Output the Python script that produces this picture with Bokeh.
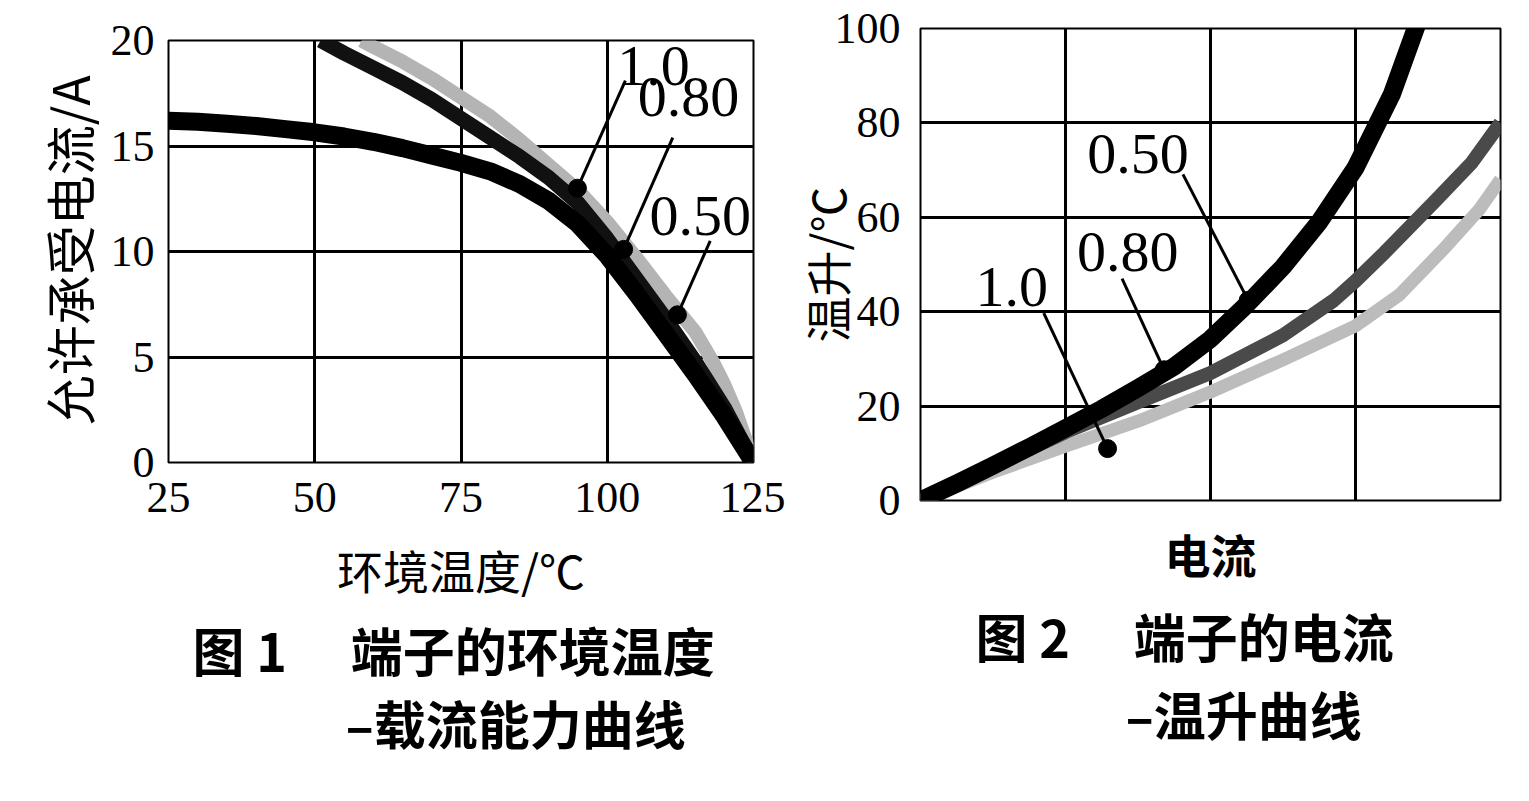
from bokeh.plotting import figure
from bokeh.models import Label, FixedTicker, Range1d, Title
from bokeh.layouts import row
from bokeh.embed import file_html
from bokeh.resources import INLINE

# ---------------- Figure 1 data: ambient temperature vs allowed current ----------------
series_names = ["1.0", "0.80", "0.50"]
temp_100 = [58, 60, 65, 70, 75, 80, 85, 90, 95, 100, 105, 110, 115, 118, 120, 122, 125]
curr_100 = [20.0, 19.7, 19.0, 18.2, 17.3, 16.4, 15.3, 14.1, 12.9, 11.4, 9.7, 7.9, 6.2, 4.8, 3.7, 2.4, 0.0]
temp_080 = [51, 55, 60, 65, 70, 75, 80, 85, 90, 95, 100, 105, 110, 115, 120, 125]
curr_080 = [20.0, 19.4, 18.7, 18.0, 17.2, 16.3, 15.4, 14.5, 13.5, 12.3, 10.6, 8.7, 6.8, 4.8, 2.6, 0.0]
temp_050 = [25, 30, 35, 40, 45, 50, 55, 60, 65, 70, 75, 80, 85, 90, 95, 100, 105, 110, 115, 120, 125]
curr_050 = [16.2, 16.15, 16.05, 15.95, 15.8, 15.65, 15.45, 15.2, 14.9, 14.55, 14.2, 13.8, 13.2,
            12.4, 11.3, 9.8, 8.0, 6.1, 4.2, 2.2, 0.0]
temp_ticks = [25, 50, 75, 100, 125]
curr_ticks = [0, 5, 10, 15, 20]

# ---------------- Figure 2 data: current vs temperature rise ----------------
i_100 = [0, 0.5, 1.0, 1.5, 2.0, 2.5, 3.0, 3.3, 3.6, 3.85, 4.0]
rise_100 = [0, 6, 11.5, 16.8, 23, 29.8, 37, 43.5, 53, 61.5, 68]
i_080 = [0, 0.5, 1.0, 1.5, 2.0, 2.5, 2.85, 3.0, 3.2, 3.55, 3.8, 4.0]
rise_080 = [0, 7.2, 14.5, 20.8, 27, 35, 42.4, 46.5, 52.5, 63.5, 71.5, 80]
i_050 = [0, 0.25, 0.5, 0.75, 1.0, 1.25, 1.5, 1.75, 2.0, 2.25, 2.5, 2.75, 3.0, 3.25, 3.45]
rise_050 = [0, 3.6, 7.4, 11.3, 15.3, 19.4, 23.8, 28.4, 34.2, 41.5, 49.5, 59, 70.5, 86, 103]
current_ticks = [0, 1, 2, 3, 4]
rise_ticks = [0, 20, 40, 60, 80, 100]

SERIF = "Liberation Serif"
CJK = "Noto Sans CJK SC"


def style(p):
    p.outline_line_color = "black"
    p.outline_line_width = 2
    p.background_fill_color = "white"
    p.border_fill_color = "white"
    for g in (p.xgrid, p.ygrid):
        g.grid_line_color = "black"
        g.grid_line_width = 3
    for ax in p.axis:
        ax.axis_line_color = None
        ax.major_tick_line_color = None
        ax.minor_tick_line_color = None
        ax.major_label_text_font = SERIF
        ax.major_label_text_font_size = "44px"
        ax.major_label_text_color = "black"
        ax.axis_label_text_font = CJK
        ax.axis_label_text_font_size = "46px"
        ax.axis_label_text_font_style = "normal"
        ax.axis_label_text_color = "black"


def caption(p, text, offset, standoff):
    p.add_layout(Title(text=text, text_font=CJK, text_font_size="52px",
                       text_font_style="bold", text_color="black",
                       align="left", offset=offset, standoff=standoff), "below")


def annot(p, x, y, text):
    p.add_layout(Label(x=x, y=y, text=text, text_font=SERIF, text_font_size="58px",
                       text_color="black", text_align="center", text_baseline="middle"))


# ---------------- Figure 1 ----------------
p1 = figure(width=785, height=780, output_backend="svg", toolbar_location=None,
            x_range=Range1d(25, 125), y_range=Range1d(0, 20),
            min_border_left=168, min_border_right=32, min_border_top=40, min_border_bottom=318,
            x_axis_label="环境温度/℃", y_axis_label="允许承受电流/A")
p1.frame_align = False
style(p1)
p1.yaxis.axis_label_text_font_size = "50px"
p1.xaxis.ticker = FixedTicker(ticks=temp_ticks)
p1.yaxis.ticker = FixedTicker(ticks=curr_ticks)
p1.xaxis.major_label_standoff = 14
p1.yaxis.major_label_standoff = 8
p1.xaxis.axis_label_standoff = 21
p1.yaxis.axis_label_standoff = 4

p1.line(temp_100, curr_100, line_color="#b4b4b4", line_width=14, line_join="round")
p1.line(temp_080, curr_080, line_color="#111111", line_width=15, line_join="round")
p1.line(temp_050, curr_050, line_color="black", line_width=18, line_join="round")

# leader lines and markers (label position -> curve point)
lead1_from_x = [103.1, 111.2, 117.6]
lead1_from_y = [18.1, 15.4, 10.5]
lead1_to_x = [94.9, 102.8, 112.0]
lead1_to_y = [13.0, 10.1, 7.0]
p1.segment(lead1_from_x, lead1_from_y, lead1_to_x, lead1_to_y, line_color="black", line_width=3)
p1.scatter(lead1_to_x, lead1_to_y, size=18, color="black")
lab1_x = [107.9, 113.9, 115.9]
lab1_y = [18.8, 17.3, 11.7]
for name, lx, ly in zip(series_names, lab1_x, lab1_y):
    annot(p1, lx, ly, name)

caption(p1, "图 1\u3000 端子的环境温度", 24, 11)
caption(p1, "–载流能力曲线", 177, -20)

# ---------------- Figure 2 ----------------
p2 = figure(width=730, height=780, output_backend="svg", toolbar_location=None,
            x_range=Range1d(0, 4), y_range=Range1d(0, 100),
            min_border_left=135, min_border_right=15, min_border_top=28, min_border_bottom=280,
            x_axis_label="电流", y_axis_label="温升/℃")
p2.frame_align = False
style(p2)
p2.xaxis.ticker = FixedTicker(ticks=current_ticks)
p2.xaxis.major_label_overrides = {t: "" for t in current_ticks}
p2.yaxis.ticker = FixedTicker(ticks=rise_ticks)
p2.yaxis.major_label_standoff = 14
p2.yaxis.axis_label_standoff = -27
p2.xaxis.axis_label_standoff = 13
p2.xaxis.axis_label_text_font_style = "bold"

p2.line(i_100, rise_100, line_color="#bcbcbc", line_width=13, line_join="round")
p2.line(i_080, rise_080, line_color="#4a4a4a", line_width=14, line_join="round")
p2.line(i_050, rise_050, line_color="black", line_width=18, line_join="round")

lead2_from_x = [0.85, 1.39, 1.81]
lead2_from_y = [39.7, 47.0, 69.1]
lead2_to_x = [1.29, 1.68, 2.26]
lead2_to_y = [11.0, 27.7, 42.4]
p2.segment(lead2_from_x, lead2_from_y, lead2_to_x, lead2_to_y, line_color="black", line_width=3)
p2.scatter(lead2_to_x, lead2_to_y, size=18, color="black")
lab2_x = [0.63, 1.43, 1.50]
lab2_y = [45.2, 52.7, 73.5]
for name, lx, ly in zip(series_names, lab2_x, lab2_y):
    annot(p2, lx, ly, name)

caption(p2, "图 2\u3000 端子的电流", 55, 15)
caption(p2, "–温升曲线", 205, -13)

layout = row(p1, p2, spacing=0)
open("out.html", "w").write(file_html(layout, INLINE))
